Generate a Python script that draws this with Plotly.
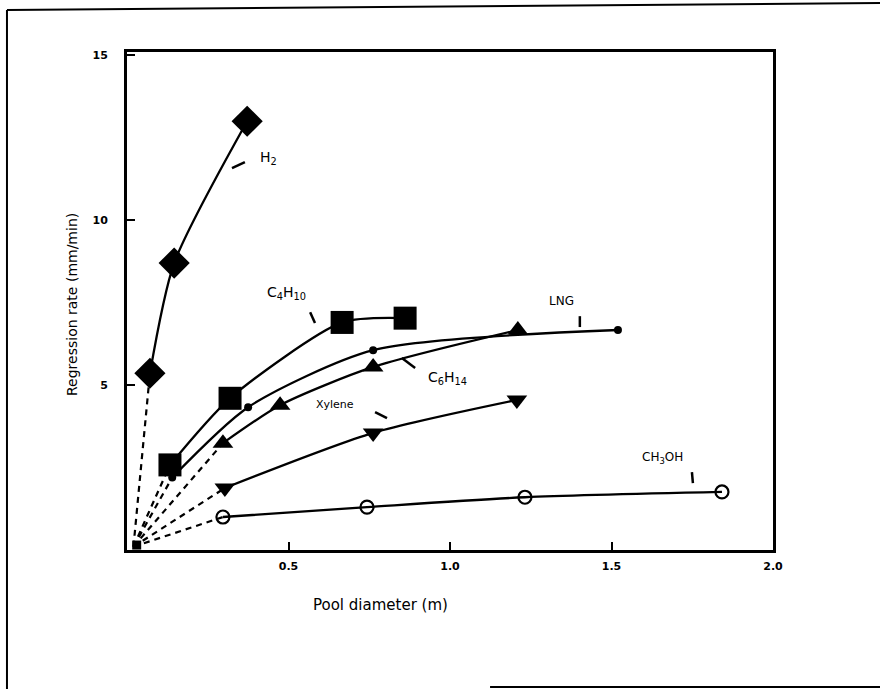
import plotly.graph_objects as go

# ---- data ----
origin = [0.02, 0.1]
h2_x = [0.071, 0.146, 0.372]
h2_y = [5.36, 8.7, 13.0]
c4_x = [0.133, 0.319, 0.666, 0.861]
c4_y = [2.58, 4.6, 6.9, 7.03]
lng_x = [0.14, 0.375, 0.762, 1.52]
lng_y = [2.2, 4.33, 6.06, 6.67]
c6_x = [0.297, 0.474, 0.762, 1.21]
c6_y = [3.24, 4.39, 5.55, 6.67]
xy_x = [0.303, 0.762, 1.207]
xy_y = [1.88, 3.55, 4.55]
ch_x = [0.297, 0.743, 1.232, 1.842]
ch_y = [1.0, 1.3, 1.6, 1.76]

x_ticks = [0.5, 1.0, 1.5, 2.0]
x_ticklabels = ["0.5", "1.0", "1.5", "2.0"]
y_ticks = [5, 10, 15]
y_ticklabels = ["5", "10", "15"]

series = [
    (h2_x, h2_y, dict(symbol="diamond", size=24, color="black")),
    (c4_x, c4_y, dict(symbol="square", size=23, color="black")),
    (lng_x, lng_y, dict(symbol="circle", size=8, color="black")),
    (c6_x, c6_y, dict(symbol="triangle-up", size=18, color="black")),
    (xy_x, xy_y, dict(symbol="triangle-down", size=18, color="black")),
    (ch_x, ch_y, dict(symbol="circle-open", size=13, color="black", line=dict(width=2.2, color="black"))),
]

fig = go.Figure()
# dashed extrapolation lines to origin
for xs, ys, _ in series:
    fig.add_trace(go.Scatter(x=[origin[0], xs[0]], y=[origin[1], ys[0]], mode="lines",
                             line=dict(color="black", width=2.2, dash="6px,5px"),
                             showlegend=False, hoverinfo="skip"))
# solid smooth curves
for xs, ys, _ in series:
    fig.add_trace(go.Scatter(x=xs, y=ys, mode="lines",
                             line=dict(color="black", width=2.3, shape="spline", smoothing=0.7),
                             showlegend=False, hoverinfo="skip"))
# markers
for xs, ys, mk in series:
    fig.add_trace(go.Scatter(x=xs, y=ys, mode="markers", marker=mk, showlegend=False,
                             cliponaxis=False))
# origin blob
fig.add_trace(go.Scatter(x=[0.03], y=[0.15], mode="markers",
                         marker=dict(symbol="square", size=9, color="black"),
                         showlegend=False, cliponaxis=False))

labels = [
    ("H<sub>2</sub>", 0.437, 11.88, 14),
    ("C<sub>4</sub>H<sub>10</sub>", 0.495, 7.79, 14),
    ("LNG", 1.344, 7.55, 12),
    ("C<sub>6</sub>H<sub>14</sub>", 0.991, 5.21, 14),
    ("Xylene", 0.644, 4.42, 11),
    ("CH<sub>3</sub>OH", 1.659, 2.79, 12),
]
for t, x, y, s in labels:
    fig.add_annotation(x=x, y=y, text=t, showarrow=False,
                       font=dict(family="DejaVu Sans", size=s, color="black"))

pointers = [
    (0.325, 11.58, 0.365, 11.76),
    (0.567, 7.21, 0.582, 6.88),
    (1.402, 7.09, 1.402, 6.76),
    (0.851, 5.82, 0.892, 5.52),
    (0.768, 4.18, 0.805, 4.0),
    (1.749, 2.36, 1.752, 2.03),
]
for x0, y0, x1, y1 in pointers:
    fig.add_shape(type="line", xref="x", yref="y", x0=x0, y0=y0, x1=x1, y1=y1,
                  line=dict(color="black", width=2.5))

# axis titles
fig.add_annotation(xref="paper", yref="paper", x=0.392, y=-0.1325, text="Pool diameter (m)",
                   showarrow=False, font=dict(family="DejaVu Sans", size=15, color="black"))
fig.add_annotation(xref="paper", yref="paper", x=-0.1006, y=0.492, text="Regression rate (mm/min)",
                   textangle=-90, showarrow=False,
                   font=dict(family="DejaVu Sans", size=14, color="black"))

# outer frame (page border)
fig.add_shape(type="line", xref="paper", yref="paper", x0=-0.1858, y0=1.0843, x1=-0.1858, y1=-0.30,
              line=dict(color="black", width=2))
fig.add_shape(type="line", xref="paper", yref="paper", x0=-0.1858, y0=1.0843, x1=1.17, y1=1.0984,
              line=dict(color="black", width=2))
fig.add_shape(type="line", xref="paper", yref="paper", x0=0.562, y0=-0.275, x1=1.17, y1=-0.275,
              line=dict(color="black", width=2))

axis_common = dict(showgrid=False, zeroline=False, showline=True, linecolor="black", linewidth=3,
                   mirror=True, ticks="inside", ticklen=8, tickwidth=2, tickcolor="black",
                   tickfont=dict(family="DejaVu Sans", size=11, color="black", weight="bold"))
fig.update_xaxes(range=[0, 2.0], tickvals=x_ticks, ticktext=x_ticklabels,
                 ticklabelstandoff=4, **axis_common)
fig.update_yaxes(range=[0, 15.1], tickvals=y_ticks, ticktext=y_ticklabels,
                 ticklabelstandoff=14, **axis_common)

fig.update_layout(width=880, height=689, margin=dict(l=127, r=107, t=52, b=139),
                  paper_bgcolor="white", plot_bgcolor="white", showlegend=False)

fig.write_html("out.html")
